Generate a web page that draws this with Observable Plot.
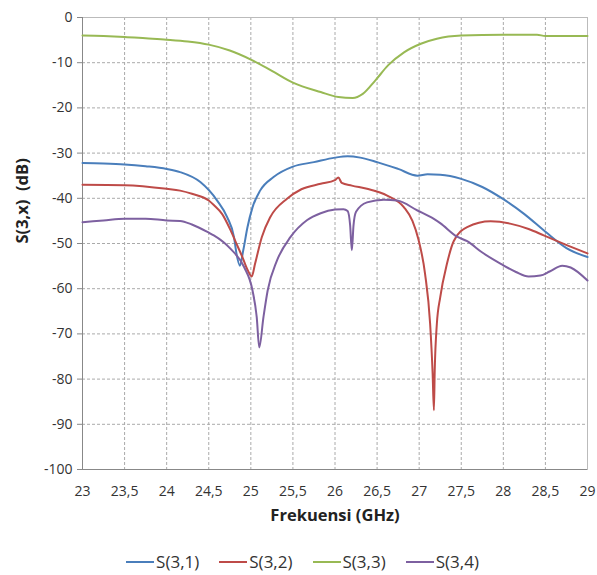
<!DOCTYPE html>
<html>
<head>
<meta charset="utf-8">
<script src="https://cdn.jsdelivr.net/npm/d3@7"></script>
<script src="https://cdn.jsdelivr.net/npm/@observablehq/plot@0.6"></script>
<style>
  body { margin: 0; background: #fff; font-family: "Open Sans", sans-serif; }
  #legend { display: flex; justify-content: center; gap: 20px; font-size: 17px; color: #333; margin-top: 12px; padding-left: 8px; line-height: 20px; }
  #legend span.item { display: inline-flex; align-items: center; }
  #legend span.sw { display: inline-block; width: 28px; height: 2px; margin-right: 2px; }
</style>
</head>
<body>
<div id="chart"></div>
<div id="legend"></div>
<script>
const seriesNames = ["S(3,1)", "S(3,2)", "S(3,3)", "S(3,4)"];
const seriesColors = ["#4a7ebb", "#be4b48", "#98b954", "#7d60a0"];
const xTicks = [23, 23.5, 24, 24.5, 25, 25.5, 26, 26.5, 27, 27.5, 28, 28.5, 29];
const yTicks = [0, -10, -20, -30, -40, -50, -60, -70, -80, -90, -100];

const s31f = [23, 23.25, 23.5, 23.75, 24, 24.16, 24.4, 24.6, 24.72, 24.8, 24.83, 24.87, 24.91, 24.96, 25.02, 25.11, 25.27, 25.5, 25.75, 26.0, 26.15, 26.3, 26.5, 26.75, 26.98, 27.1, 27.25, 27.5, 27.75, 28.0, 28.25, 28.5, 28.75, 29];
const s31v = [-32.2, -32.3, -32.5, -32.9, -33.5, -34.2, -36.4, -40.5, -44.2, -48.6, -52.3, -54.9, -51.5, -46.4, -42, -38.3, -35.3, -33.0, -32.0, -31.0, -30.7, -31.0, -32.0, -33.5, -35.0, -34.7, -34.8, -35.7, -37.5, -40.2, -43.5, -47.4, -51, -53];

const s32f = [23, 23.5, 24, 24.16, 24.3, 24.5, 24.56, 24.66, 24.76, 24.84, 24.9, 24.96, 25.01, 25.05, 25.13, 25.23, 25.43, 25.6, 25.83, 26.0, 26.04, 26.08, 26.2, 26.38, 26.62, 26.82, 26.92, 26.99, 27.07, 27.13, 27.16, 27.175, 27.185, 27.21, 27.25, 27.33, 27.41, 27.57, 27.85, 28.08, 28.3, 28.48, 28.76, 29];
const s32v = [-37.0, -37.1, -37.9, -38.3, -39.0, -40.5, -41.5, -43.5, -47.1, -50.5, -53, -55.8, -57.3, -54.5, -48.6, -44.2, -40.1, -38.0, -36.8, -36.0, -35.4, -36.6, -37.2, -37.9, -39.4, -42, -45, -49, -56.7, -67.7, -78.8, -86.9, -78, -67.8, -61.9, -54.5, -49.5, -46.4, -45.1, -45.6, -46.8, -48.2, -50.4, -52.2];

const s33f = [23, 23.25, 23.5, 23.75, 24, 24.25, 24.5, 24.75, 25, 25.25, 25.5, 25.83, 26.04, 26.21, 26.33, 26.48, 26.63, 26.82, 27.02, 27.21, 27.5, 28, 28.4, 28.5, 29];
const s33v = [-4.0, -4.1, -4.3, -4.6, -4.9, -5.3, -6.0, -7.3, -9.3, -11.8, -14.4, -16.5, -17.6, -17.8, -16.9, -13.9, -10.6, -7.7, -5.8, -4.7, -4.0, -3.8, -3.8, -4.1, -4.1];

const s34f = [23, 23.25, 23.5, 23.75, 24, 24.16, 24.3, 24.5, 24.56, 24.76, 24.92, 25.02, 25.07, 25.1, 25.15, 25.2, 25.31, 25.47, 25.67, 25.83, 26.0, 26.1, 26.15, 26.18, 26.2, 26.22, 26.25, 26.38, 26.58, 26.74, 26.98, 27.17, 27.25, 27.45, 27.57, 27.75, 27.97, 28.15, 28.3, 28.44, 28.55, 28.7, 28.8, 29];
const s34v = [-45.3, -44.9, -44.5, -44.5, -44.9, -45.0, -45.8, -47.6, -48.2, -51.2, -55.2, -60.4, -66.3, -73, -66.3, -60.4, -53.8, -48.6, -44.8, -43.3, -42.5, -42.4, -42.8, -46, -51.5, -46, -43, -40.9, -40.3, -40.5, -42.7, -44.5, -45.5, -48.5, -49.5, -52, -54.5, -56.3, -57.3, -57.1, -56.2, -54.9, -55.3, -58.2];

const freqs = [s31f, s32f, s33f, s34f];
const vals = [s31v, s32v, s33v, s34v];
const data = [];
seriesNames.forEach((name, i) => {
  freqs[i].forEach((f, j) => data.push({series: name, f, v: vals[i][j]}));
});

const fmtX = d => String(d).replace(".", ",");
const fmtY = d => String(d);

const chart = Plot.plot({
  width: 597,
  height: 540,
  marginLeft: 82,
  marginRight: 10,
  marginTop: 17,
  marginBottom: 71,
  style: {fontFamily: "'Open Sans', sans-serif", fontSize: "14px", color: "#333", background: "#fff"},
  x: {domain: [23, 29]},
  y: {domain: [-100, 0]},
  color: {domain: seriesNames, range: seriesColors},
  marks: [
    Plot.gridX(xTicks, {stroke: "#aaa", strokeOpacity: 1, strokeDasharray: "3,2"}),
    Plot.gridY(yTicks, {stroke: "#aaa", strokeOpacity: 1, strokeDasharray: "3,2"}),
    Plot.frame({stroke: "#bbb"}),
    Plot.ruleX([23], {stroke: "#888"}),
    Plot.ruleY([-100], {stroke: "#888"}),
    Plot.axisX({ticks: xTicks, tickFormat: fmtX, tickSize: 0, tickPadding: 17, label: null, fontSize: 14}),
    Plot.axisY({ticks: yTicks, tickFormat: fmtY, tickSize: 5, tickPadding: 5, label: null, fontSize: 14, stroke: "#888"}),
    Plot.line(data, {x: "f", y: "v", z: "series", stroke: "series", strokeWidth: 2, curve: "monotone-x"}),
    Plot.text(["Frekuensi (GHz)"], {frameAnchor: "bottom", dy: 51, fontWeight: "bold", fontSize: 16.5, fill: "#222"}),
    Plot.text(["S(3,x)\u00a0 (dB)"], {frameAnchor: "left", dx: -60, rotate: -90, fontWeight: "bold", fontSize: 16.5, fill: "#222"})
  ]
});
document.getElementById("chart").appendChild(chart);

const legend = document.getElementById("legend");
seriesNames.forEach((name, i) => {
  const item = document.createElement("span");
  item.className = "item";
  const sw = document.createElement("span");
  sw.className = "sw";
  sw.style.background = seriesColors[i];
  item.appendChild(sw);
  item.appendChild(document.createTextNode(name));
  legend.appendChild(item);
});
</script>
</body>
</html>
